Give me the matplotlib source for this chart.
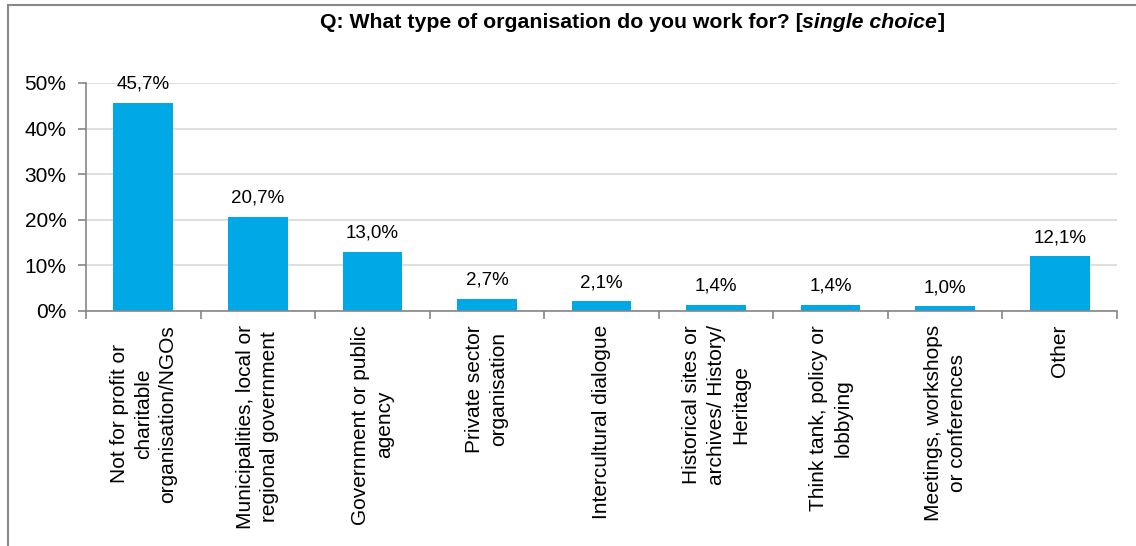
import matplotlib
matplotlib.use('Agg')
import matplotlib.pyplot as plt
from matplotlib.patches import Rectangle

plt.rcParams['font.family'] = ['Liberation Sans', 'DejaVu Sans']

# Data
categories = [
    'Not for profit or\ncharitable\norganisation/NGOs',
    'Municipalities, local or\nregional government',
    'Government or public\nagency',
    'Private sector\norganisation',
    'Intercultural dialogue',
    'Historical sites or\narchives/ History/\nHeritage',
    'Think tank, policy or\nlobbying',
    'Meetings, workshops\nor conferences',
    'Other',
]
values = [45.7, 20.7, 13.0, 2.7, 2.1, 1.4, 1.4, 1.0, 12.1]
y_ticks = [0, 10, 20, 30, 40, 50]

bar_color = '#00A9E6'
axis_color = '#868686'
grid_color = '#D9D9D9'

fig = plt.figure(figsize=(11.36, 5.46), dpi=100)
ax = fig.add_axes([86 / 1136, 1 - 311 / 546, (1117 - 86) / 1136, (311 - 83) / 546])

x = list(range(len(categories)))
ax.bar(x, values, width=0.52, color=bar_color, zorder=3)

# Data labels with comma decimal
for xi, v in zip(x, values):
    ax.annotate(f'{v:.1f}%'.replace('.', ','), (xi, v), xytext=(0, 7),
                textcoords='offset points', ha='center', va='bottom',
                fontsize=13.5, color='#000000')

ax.set_xlim(-0.5, len(categories) - 0.5)
ax.set_ylim(0, 50)
ax.set_yticks(y_ticks)
ax.set_yticklabels([f'{t}%' for t in y_ticks], fontsize=15)
ax.yaxis.grid(True, color=grid_color, linewidth=1.2, zorder=0)

ax.set_xticks(x)
ax.set_xticklabels(categories, rotation=90, fontsize=15, ha='center', va='top',
                   multialignment='center', linespacing=1.35)
ax.set_xticks([i + 0.5 for i in range(-1, len(categories))], minor=True)
ax.tick_params(axis='x', which='major', length=0, pad=10)
ax.tick_params(axis='x', which='minor', length=6, color=axis_color, width=1.2)
ax.tick_params(axis='y', length=6, color=axis_color, width=1.2, pad=8)

for side in ['top', 'right']:
    ax.spines[side].set_visible(False)
for side in ['left', 'bottom']:
    ax.spines[side].set_color(axis_color)
    ax.spines[side].set_linewidth(1.2)
    ax.spines[side].set_zorder(4)

# Chart border (runs off the right and bottom edges)
fig.patches.append(Rectangle((8 / 1136, -0.1), 1.2, 1 - 5 / 546 + 0.1,
                             transform=fig.transFigure, fill=False,
                             edgecolor='#888888', linewidth=1.5))

# Title with italic part
fig.canvas.draw()
renderer = fig.canvas.get_renderer()
parts = [('Q: What type of organisation do you work for? [', 'normal'),
         ('single choice', 'italic'),
         (']', 'normal')]
texts = []
for s, st in parts:
    t = fig.text(0, 1 - 22 / 546, s, fontsize=15.3, fontweight='bold', style=st,
                 va='center', ha='left')
    texts.append(t)
widths = [t.get_window_extent(renderer).width for t in texts]
total = sum(widths)
x0 = 632 - total / 2
for t, w in zip(texts, widths):
    t.set_x(x0 / 1136)
    x0 += w

fig.savefig('out.png', dpi=100)
